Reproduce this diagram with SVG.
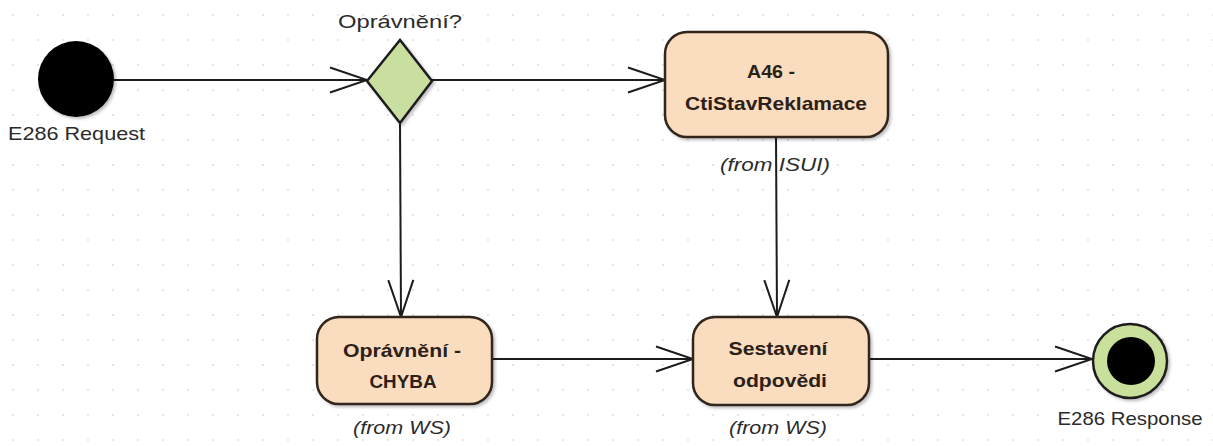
<svg xmlns="http://www.w3.org/2000/svg" width="1213" height="446" viewBox="0 0 1213 446">
<style>
.lbl{font-family:"Liberation Sans",Arial,sans-serif;font-size:19px;fill:#2b2b2b}
.bold{font-family:"Liberation Sans",Arial,sans-serif;font-size:19px;font-weight:bold;fill:#2b2118}
.ital{font-family:"Liberation Sans",Arial,sans-serif;font-size:18px;font-style:italic;fill:#2b2b2b}
.act{fill:#fadcbf;stroke:#33261e;stroke-width:2.5}
.conn{fill:none;stroke:#1c1c1c;stroke-width:2}
</style>
<defs>
<pattern id="grid" x="0" y="0" width="25" height="25" patternUnits="userSpaceOnUse">
<rect x="12" y="14" width="2" height="2" fill="#e6e6e6"/>
</pattern>
<marker id="arr" markerUnits="userSpaceOnUse" markerWidth="42" markerHeight="30" viewBox="-39 -15 42 30" refX="0" refY="0" orient="auto">
<path d="M-37,-12.5 L0,0 L-37,12.5" fill="none" stroke="#1c1c1c" stroke-width="2"/>
</marker>
<filter id="sh" x="-10%" y="-10%" width="125%" height="130%">
<feDropShadow dx="2" dy="2" stdDeviation="1.5" flood-color="#000" flood-opacity="0.25"/>
</filter>
</defs>
<rect width="1213" height="446" fill="#ffffff"/>
<rect width="1213" height="446" fill="url(#grid)"/>

<g id="connectors">
<line class="conn" x1="114" y1="80" x2="367" y2="80" marker-end="url(#arr)"/>
<line class="conn" x1="432" y1="80" x2="665" y2="80" marker-end="url(#arr)"/>
<line class="conn" x1="400" y1="123" x2="401" y2="317" marker-end="url(#arr)"/>
<line class="conn" x1="776" y1="137" x2="777" y2="317" marker-end="url(#arr)"/>
<line class="conn" x1="492" y1="359" x2="693" y2="359" marker-end="url(#arr)"/>
<line class="conn" x1="870" y1="359" x2="1092" y2="359" marker-end="url(#arr)"/>
</g>

<g id="start">
<circle cx="76" cy="79" r="38" fill="#000" filter="url(#sh)"/>
<text class="lbl" x="8" y="140" textLength="137" lengthAdjust="spacingAndGlyphs">E286 Request</text>
</g>

<g id="decision">
<polygon points="400,40 432,81 400,123 367,81" fill="#c9df9f" stroke="#1f1f1f" stroke-width="2.5" filter="url(#sh)"/>
<text class="lbl" x="400" y="28" text-anchor="middle" textLength="124" lengthAdjust="spacingAndGlyphs">Oprávnění?</text>
</g>

<g id="a46">
<rect class="act" x="665" y="32" width="223" height="105" rx="22" filter="url(#sh)"/>
<text class="bold" x="771" y="78" text-anchor="middle" textLength="48" lengthAdjust="spacingAndGlyphs">A46 -</text>
<text class="bold" x="776" y="110" text-anchor="middle" textLength="182" lengthAdjust="spacingAndGlyphs">CtiStavReklamace</text>
<text class="ital" x="775" y="171" text-anchor="middle" textLength="110" lengthAdjust="spacingAndGlyphs">(from ISUI)</text>
</g>

<g id="chyba">
<rect class="act" x="317" y="317" width="175" height="87" rx="22" filter="url(#sh)"/>
<text class="bold" x="402" y="357" text-anchor="middle" textLength="118" lengthAdjust="spacingAndGlyphs">Oprávnění -</text>
<text class="bold" x="403" y="388" text-anchor="middle" textLength="67" lengthAdjust="spacingAndGlyphs">CHYBA</text>
<text class="ital" x="402" y="434" text-anchor="middle" textLength="98" lengthAdjust="spacingAndGlyphs">(from WS)</text>
</g>

<g id="sestaveni">
<rect class="act" x="693" y="317" width="176" height="88" rx="22" filter="url(#sh)"/>
<text class="bold" x="778" y="355" text-anchor="middle" textLength="99" lengthAdjust="spacingAndGlyphs">Sestavení</text>
<text class="bold" x="780" y="387" text-anchor="middle" textLength="94" lengthAdjust="spacingAndGlyphs">odpovědi</text>
<text class="ital" x="778" y="434" text-anchor="middle" textLength="98" lengthAdjust="spacingAndGlyphs">(from WS)</text>
</g>

<g id="end">
<circle cx="1130" cy="361" r="37" fill="#c9e09c" stroke="#1f1f1f" stroke-width="2.5" filter="url(#sh)"/>
<circle cx="1131" cy="361" r="24" fill="#000"/>
<text class="lbl" x="1130" y="425" text-anchor="middle" textLength="145" lengthAdjust="spacingAndGlyphs">E286 Response</text>
</g>
</svg>
